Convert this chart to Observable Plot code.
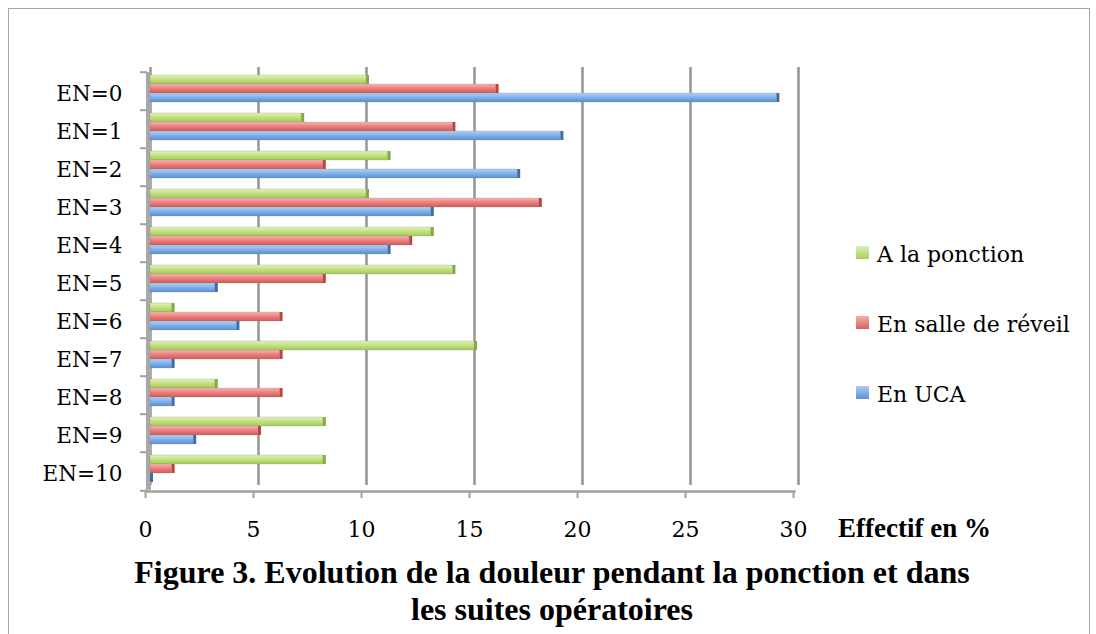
<!DOCTYPE html>
<html>
<head>
<meta charset="utf-8">
<script src="https://cdn.jsdelivr.net/npm/d3@7"></script>
<script src="https://cdn.jsdelivr.net/npm/@observablehq/plot@0.6"></script>
<style>
  html, body { margin:0; padding:0; background:#fff; width:1096px; height:634px; overflow:hidden; }
  #border { position:absolute; left:8px; top:8px; width:1082px; height:700px; border:1.5px solid #a6a6a6; box-sizing:border-box; }
  #chart { position:absolute; left:0; top:0; }
  .lg { position:absolute; left:856px; font-family:"DejaVu Serif", serif; font-size:22px; line-height:24px; color:#000; white-space:nowrap; }
  .sw { display:inline-block; width:13px; height:13px; margin-right:8px; vertical-align:3px; }
  #xlabel { position:absolute; left:838px; top:512px; font-family:"Liberation Serif", serif; font-weight:bold; font-size:27px; line-height:32px; white-space:nowrap; }
  #title { position:absolute; left:8px; width:1088px; top:554px; text-align:center; font-family:"Liberation Serif", serif; font-weight:bold; font-size:32px; line-height:37px; color:#000; }
</style>
</head>
<body>
<svg width="0" height="0" style="position:absolute">
  <defs>
    <linearGradient id="gGreen" x1="0" y1="0" x2="0" y2="1">
      <stop offset="0" stop-color="#e2f2b8"/><stop offset="0.5" stop-color="#c3e07f"/><stop offset="1" stop-color="#a4c95a"/>
    </linearGradient>
    <linearGradient id="gRed" x1="0" y1="0" x2="0" y2="1">
      <stop offset="0" stop-color="#f8b4b2"/><stop offset="0.5" stop-color="#ea7e7b"/><stop offset="1" stop-color="#d35a57"/>
    </linearGradient>
    <linearGradient id="gBlue" x1="0" y1="0" x2="0" y2="1">
      <stop offset="0" stop-color="#b2d1f4"/><stop offset="0.5" stop-color="#7fb0ea"/><stop offset="1" stop-color="#5b8fd3"/>
    </linearGradient>
  </defs>
</svg>
<div id="border"></div>
<div id="chart"></div>
<div id="legend"></div>
<div id="xlabel">Effectif en %</div>
<div id="title">Figure 3. Evolution de la douleur pendant la ponction et dans<br>les suites opératoires</div>
<script>
const categories = ["EN=0","EN=1","EN=2","EN=3","EN=4","EN=5","EN=6","EN=7","EN=8","EN=9","EN=10"];
const series = ["A la ponction","En salle de réveil","En UCA"];
const ponction = [10, 7, 11, 10, 13, 14, 1, 15, 3, 8, 8];
const salle    = [16, 14, 8, 18, 12, 8, 6, 6, 6, 5, 1];
const uca      = [29, 19, 17, 13, 11, 3, 4, 1, 1, 2, 0];
const xTicks = [0, 5, 10, 15, 20, 25, 30];

const seriesValues = [ponction, salle, uca];
const fills = ["url(#gGreen)", "url(#gRed)", "url(#gBlue)"];
const caps = ["#86a843", "#b84542", "#3d6cab"];
const legendSwatch = ["linear-gradient(#dcefae,#a9cf5c)", "linear-gradient(#f6aeac,#d9605d)", "linear-gradient(#accdf3,#5a8fd6)"];

const rows = categories.flatMap((c, i) => series.map((s, k) => ({cat: c, series: s, value: seriesValues[k][i]})));

const chart = Plot.plot({
  width: 1096,
  height: 548,
  marginLeft: 150,
  marginRight: 298,
  marginTop: 68,
  marginBottom: 55,
  x: {domain: [0, 30], axis: null, label: null},
  fy: {domain: categories, padding: 0, axis: null, label: null},
  y: {domain: series, paddingInner: 0, paddingOuter: 0.55, align: 0.3, axis: null, label: null},
  color: {domain: series, range: fills},
  style: {fontFamily: "DejaVu Serif", fontSize: "21px", color: "#000", background: "transparent"},
  marks: [
    Plot.ruleX(xTicks, {stroke: "#959595", strokeWidth: 2.5, strokeOpacity: 1, dy: -5}),
    Plot.ruleX([0], {stroke: "#a8a8a8", strokeWidth: 5, strokeOpacity: 1, dx: -2}),
    Plot.frame({anchor: "bottom", facetAnchor: "bottom", stroke: "#a0a0a0", strokeWidth: 2.5, dx: -4, dy: 1}),
    Plot.barX(rows, {fy: "cat", y: "series", x: "value", fill: "series", stroke: "#7f7f7f", strokeOpacity: 0.3, strokeWidth: 0.8}),
    ...series.map((s, k) => Plot.barX(rows, {
      filter: d => d.series === s, fy: "cat", y: "series",
      x1: "value", x2: "value", insetRight: -3, fill: caps[k]
    })),
    Plot.axisFy({anchor: "left", label: null, tickSize: 0, tickPadding: 28, fontSize: 21.5, dy: 3}),
    Plot.axisFy({anchor: "left", label: null, tickSize: 7, text: null, dy: -19.3, dx: -3, stroke: "#a0a0a0", strokeWidth: 2}),
    Plot.axisFy({anchor: "left", label: null, ticks: ["EN=10"], tickSize: 7, text: null, dy: 19.3, dx: -3, stroke: "#a0a0a0", strokeWidth: 2}),
    Plot.axisX({anchor: "bottom", label: null, ticks: xTicks, tickSize: 7, tickPadding: 23, dx: -5, dy: 1, fontSize: 22, stroke: "#a0a0a0", strokeWidth: 2})
  ]
});
document.getElementById("chart").appendChild(chart);

const legendTops = [243, 313, 383];
const legend = document.getElementById("legend");
series.forEach((s, k) => {
  const div = document.createElement("div");
  div.className = "lg";
  div.style.top = legendTops[k] + "px";
  div.innerHTML = `<span class="sw" style="background:${legendSwatch[k]}"></span>${s}`;
  legend.appendChild(div);
});
</script>
</body>
</html>
